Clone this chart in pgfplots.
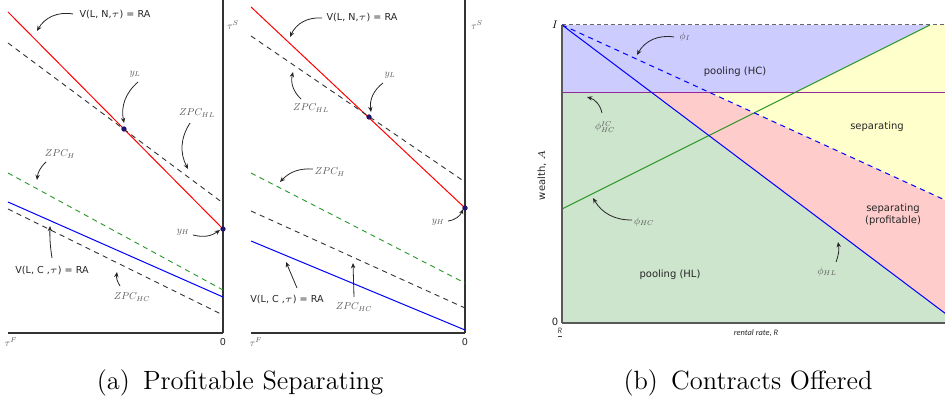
\documentclass[border=0pt]{standalone}
\usepackage{pgfplots}
\pgfplotsset{compat=1.18}
\usepackage{fontspec}
\usetikzlibrary{arrows.meta}
\newfontfamily\dvs{DejaVu Sans}
\newfontfamily\carl{Carlito}
\definecolor{lav}{RGB}{204,204,255}
\definecolor{lgreen}{RGB}{205,228,205}
\definecolor{lpink}{RGB}{255,204,204}
\definecolor{lyellow}{RGB}{255,255,204}
\definecolor{purp}{RGB}{150,40,150}
\definecolor{gline}{RGB}{40,150,40}
\definecolor{ptc}{RGB}{30,20,110}
\definecolor{lbl}{RGB}{85,85,85}
\newcommand\sz{\fontsize{4.8}{5.8}\selectfont}
\newcommand\szb{\fontsize{5}{6}\selectfont}
\newcommand\mm[1]{\scalebox{0.5}{$#1$}}
\tikzset{ann/.style={-{Stealth[length=2.6pt,width=2.2pt]}, line width=0.4pt, black!85},
  ml/.style={text=lbl, inner sep=1pt},
  sl/.style={font=\sz\dvs, text=black!85},
  slb/.style={font=\szb\dvs, text=black!85}}
\pgfplotsset{panela/.style={scale only axis, height=166.5pt,
  axis x line*=bottom, axis y line*=right, axis line style={-, line width=0.6pt, black!80},
  xtick=\empty, ytick=\empty, ymin=79, ymax=412, clip=false},
  zpc/.style={black!80, dash pattern=on 2.6pt off 2.2pt, line width=0.45pt}}
\begin{document}
\begin{tikzpicture}[x=0.5pt,y=0.5pt]
\useasboundingbox (0,0) rectangle (945,412);
% ---------- panel a1 ----------
\begin{axis}[panela, at={(4pt,39.5pt)}, anchor=south west, width=107.5pt, xmin=8, xmax=223]
\addplot[red, line width=0.5pt] coordinates {(8,400) (223,183)};
\addplot[zpc] coordinates {(8,369) (223,209)};
\addplot[gline, dash pattern=on 2.6pt off 2.2pt, line width=0.45pt] coordinates {(8,239) (223,122)};
\addplot[blue, line width=0.5pt] coordinates {(8,210) (223,115)};
\addplot[zpc] coordinates {(8,203) (223,97)};
\addplot[only marks, mark=*, mark size=1.1pt, ptc] coordinates {(124,283) (223,183)};
\node[sl] at (axis cs:115,397) {V(L, N,$\tau$) = RA};
\draw[ann] (axis cs:73,398) to[bend right=35] (axis cs:37,381);
\node[ml] at (axis cs:135,338) {\mm{y_L}};
\draw[ann] (axis cs:138,330) to[bend right=30] (axis cs:124,289);
\node[ml] at (axis cs:197,299) {\mm{ZPC_{HL}}};
\draw[ann] (axis cs:190,289) to[bend right=30] (axis cs:188,243);
\node[ml] at (axis cs:60,258) {\mm{ZPC_H}};
\draw[ann] (axis cs:46,250) to[bend right=20] (axis cs:37,232);
\node[sl] at (axis cs:52,142) {V(L, C ,$\tau$) = RA};
\draw[ann] (axis cs:52,154) to[bend left=5] (axis cs:50,186);
\node[ml] at (axis cs:132,115) {\mm{ZPC_{HC}}};
\draw[ann] (axis cs:120,126) to[bend left=20] (axis cs:117,140);
\node[ml] at (axis cs:183,180) {\mm{y_H}};
\draw[ann] (axis cs:193,177) to[bend right=25] (axis cs:220,182);
\node[sl] at (axis cs:223,70) {0};
\node[ml] at (axis cs:11,70) {\mm{\tau^F}};
\node[ml] at (axis cs:233,387) {\mm{\tau^S}};
\end{axis}
% ---------- panel a2 ----------
\begin{axis}[panela, at={(125.5pt,39.5pt)}, anchor=south west, width=107pt, xmin=251, xmax=465]
\addplot[red, line width=0.5pt] coordinates {(251,405) (465,204)};
\addplot[zpc] coordinates {(251,376) (465,230)};
\addplot[gline, dash pattern=on 2.6pt off 2.2pt, line width=0.45pt] coordinates {(251,239) (465,129)};
\addplot[zpc] coordinates {(251,201) (465,104)};
\addplot[blue, line width=0.5pt] coordinates {(251,171) (465,82)};
\addplot[only marks, mark=*, mark size=1.1pt, ptc] coordinates {(369,295) (465,204)};
\node[sl] at (axis cs:362,394) {V(L, N,$\tau$) = RA};
\draw[ann] (axis cs:322,394) to[bend right=35] (axis cs:290,375);
\node[ml] at (axis cs:390,337) {\mm{y_L}};
\draw[ann] (axis cs:383,329) to[bend right=30] (axis cs:371,300);
\node[ml] at (axis cs:311,304) {\mm{ZPC_{HL}}};
\draw[ann] (axis cs:301,313) to[bend left=30] (axis cs:293,340);
\node[ml] at (axis cs:330,240) {\mm{ZPC_H}};
\draw[ann] (axis cs:313,243) to[bend right=25] (axis cs:280,230);
\node[ml] at (axis cs:438,190) {\mm{y_H}};
\draw[ann] (axis cs:448,191) to[bend right=30] (axis cs:463,203);
\node[sl] at (axis cs:287,113) {V(L, C ,$\tau$) = RA};
\draw[ann] (axis cs:297,124) -- (axis cs:286,150);
\node[ml] at (axis cs:354,105) {\mm{ZPC_{HC}}};
\draw[ann] (axis cs:354,115) -- (axis cs:353,149);
\node[sl] at (axis cs:465,70) {0};
\node[ml] at (axis cs:256,70) {\mm{\tau^F}};
\node[ml] at (axis cs:477,387) {\mm{\tau^S}};
\end{axis}
% ---------- panel b ----------
\begin{axis}[scale only axis, at={(281pt,44.5pt)}, anchor=south west,
  width=192pt, height=149pt, xmin=562, xmax=946, ymin=89, ymax=387,
  axis x line*=bottom, axis y line*=left, axis line style={-, line width=0.8pt, black!65},
  xtick=\empty, ytick=\empty, clip=false, axis on top]
\addplot[fill=lgreen, draw=none] coordinates {(562,89) (562,319) (652.4,319) (946,98) (946,89)} -- cycle;
\addplot[fill=lpink, draw=none] coordinates {(652.4,319) (710.8,319) (946,211.5) (946,98)} -- cycle;
\addplot[fill=lyellow, draw=none] coordinates {(710.8,319) (794,319) (930,387) (946,387) (946,211.5)} -- cycle;
\addplot[fill=lav, draw=none] coordinates {(562,319) (562,387) (930,387) (794,319)} -- cycle;
\addplot[black!60, dash pattern=on 2pt off 1.5pt, line width=0.5pt] coordinates {(562,387) (946,387)};
\addplot[purp, line width=0.5pt] coordinates {(562,319) (946,319)};
\addplot[gline, line width=0.5pt] coordinates {(562,203) (930,387)};
\addplot[blue, line width=0.5pt] coordinates {(562,387) (946,98)};
\addplot[blue, dash pattern=on 2.6pt off 2.2pt, line width=0.5pt] coordinates {(562,387) (946,211.5)};
\node[slb] at (axis cs:735,340) {pooling (HC)};
\node[slb] at (axis cs:877,285) {separating};
\node[slb, align=center] at (axis cs:893,197) {separating\\(profitable)};
\node[slb] at (axis cs:670,137) {pooling (HL)};
\node[ml] at (axis cs:685,375) {\mm{\phi_I}};
\draw[ann] (axis cs:674,375) to[bend right=35] (axis cs:637,357);
\node[ml] at (axis cs:605,285) {\mm{\phi_{HC}^{IC}}};
\draw[ann] (axis cs:602,299) to[bend right=30] (axis cs:587,315);
\node[ml] at (axis cs:644,190) {\mm{\phi_{HC}}};
\draw[ann] (axis cs:632,192) to[bend left=30] (axis cs:593,214);
\node[ml] at (axis cs:827,140) {\mm{\phi_{HL}}};
\draw[ann] (axis cs:836,150) to[bend right=15] (axis cs:838,170);
\node[slb, rotate=90] at (axis cs:542,237) {wealth, $A$};
\node[text=black] at (axis cs:555,387) {\scalebox{0.55}{$I$}};
\node[slb] at (axis cs:555,90) {0};
\node[font=\fontsize{4.2}{5}\selectfont\carl\itshape, text=black!75] at (axis cs:560,79) {\underline{R}};
\node[font=\fontsize{4.2}{5}\selectfont\carl\itshape, text=black!85] at (axis cs:756,79) {rental rate, R};
\end{axis}
% ---------- captions ----------
\node[font=\fontsize{13.2}{16}\selectfont] at (240,29) {(a)\enspace Profitable Separating};
\node[font=\fontsize{13.2}{16}\selectfont] at (748,29) {(b)\enspace Contracts Offered};
\end{tikzpicture}
\end{document}
